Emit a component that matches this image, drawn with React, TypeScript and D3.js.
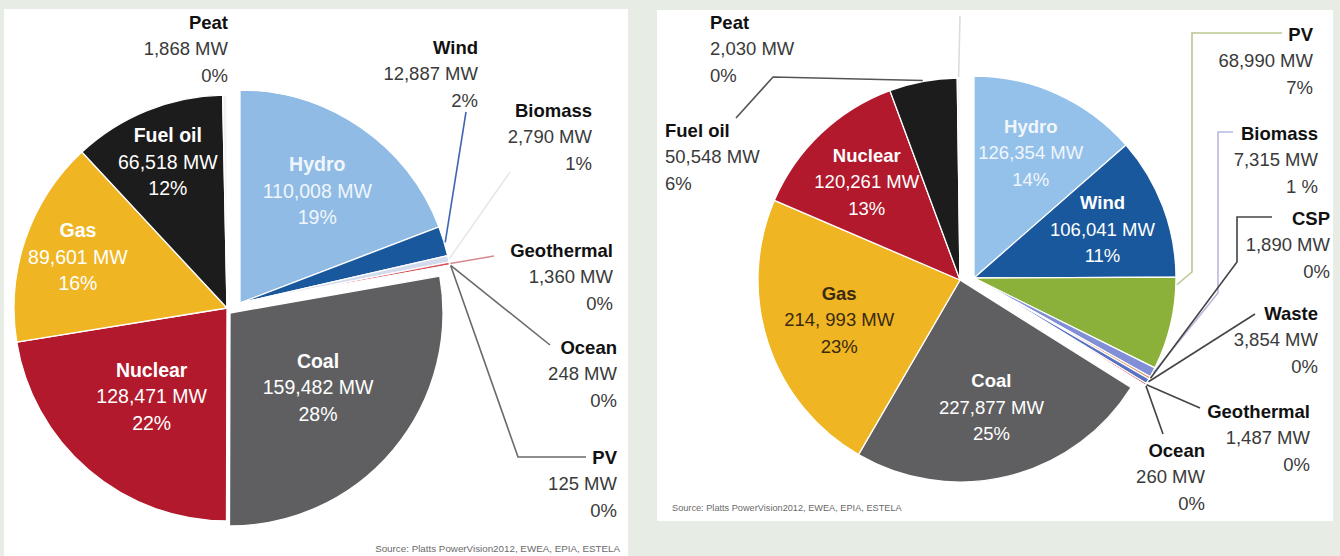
import * as d3 from "d3";

// ---- data: installed capacity by source (left chart / right chart) ----
const leftNames = ["Hydro", "Wind", "Biomass", "Geothermal", "Ocean", "PV", "Coal", "Nuclear", "Gas", "Fuel oil", "Peat"];
const leftMW = [110008, 12887, 2790, 1360, 248, 125, 159482, 128471, 89601, 66518, 1868];
const leftPct = ["19%", "2%", "1%", "0%", "0%", "0%", "28%", "22%", "16%", "12%", "0%"];

const rightNames = ["Hydro", "Wind", "PV", "Biomass", "CSP", "Waste", "Geothermal", "Ocean", "Coal", "Gas", "Nuclear", "Fuel oil", "Peat"];
const rightMW = [126354, 106041, 68990, 7315, 1890, 3854, 1487, 260, 227877, 214993, 120261, 50548, 2030];
const rightPct = ["14%", "11%", "7%", "1 %", "0%", "0%", "0%", "0%", "25%", "23%", "13%", "6%", "0%"];
// the printed chart has a stray space in one number
const rightTypos: Record<string, string> = { Gas: "214, 993 MW" };

const sourceText = "Source: Platts PowerVision2012, EWEA, EPIA, ESTELA";

const FONT = "'Liberation Sans', Arial, Helvetica, sans-serif";
const LINE = 26.5;

const baseColors: Record<string, string> = {
  Hydro: "#8fbbe5",
  Wind: "#1a589d",
  Coal: "#5f5f61",
  Nuclear: "#b2192c",
  Gas: "#efb522",
  "Fuel oil": "#1c1c1c",
  Peat: "#f2f2f2",
  PV: "#8bb13a",
  Biomass: "#d6dcef",
  Geothermal: "#d8525a",
  Ocean: "#8793c4",
  CSP: "#e39a6a",
  Waste: "#5a72c2",
};

const fmt = d3.format(",");

const rightGroup = (names: string[], upTo: string, d: [number, number]) => {
  const o: Record<string, [number, number]> = {};
  for (const n of names.slice(0, names.indexOf(upTo))) o[n] = d;
  return o;
};

const leftLayout = {
  cx: 227,
  cy: 308,
  r: 213,
  offsets: { ...rightGroup(leftNames, "Coal", [13, -5]), Coal: [3, 5] } as Record<string, [number, number]>,
  colors: { ...baseColors, Biomass: "#d3dbef" },
  inside: { Hydro: 0.64, Coal: 0.54, Nuclear: 0.545, Gas: 0.74, "Fuel oil": 0.74 } as Record<string, number>,
  insideFill: { Hydro: "#f1f6fc" } as Record<string, string>,
  insideSize: 19.5,
  outside: {
    Peat: { x: 228, y: 22, anchor: "end" },
    Wind: { x: 478, y: 47, anchor: "end" },
    Biomass: { x: 592, y: 110, anchor: "end" },
    Geothermal: { x: 613, y: 250, anchor: "end" },
    Ocean: { x: 617, y: 347, anchor: "end" },
    PV: { x: 617, y: 457, anchor: "end" },
  } as Record<string, { x: number; y: number; anchor: string }>,
  leaders: {
    Wind: { pts: [[466, 112]], color: "#3f66b4", at: 0.55 },
    Biomass: { pts: [[510, 172]], color: "#e6e8ef", at: 0.5 },
    Geothermal: { pts: [[494, 256]], color: "#d88a90", at: 0.5 },
    Ocean: { pts: [[550, 345]], color: "#6a6a6a", at: 0.5 },
    PV: { pts: [[518, 457], [586, 457]], color: "#6a6a6a", at: 0.5 },
  } as Record<string, { pts: number[][]; color: string; at: number }>,
};

const rightLayout = {
  cx: 960,
  cy: 280,
  r: 202,
  offsets: rightGroup(rightNames, "Coal", [14, -2]),
  colors: { ...baseColors, Biomass: "#8190d6", Hydro: "#94c1ea" },
  inside: { Hydro: 0.68, Wind: 0.68, Coal: 0.65, Gas: 0.63, Nuclear: 0.67 } as Record<string, number>,
  insideFill: { Gas: "#3a2a10", Hydro: "#f1f6fc" } as Record<string, string>,
  insideSize: 18.5,
  outside: {
    Peat: { x: 710, y: 22, anchor: "start" },
    "Fuel oil": { x: 665, y: 130, anchor: "start" },
    PV: { x: 1313, y: 34, anchor: "end" },
    Biomass: { x: 1318, y: 133, anchor: "end" },
    CSP: { x: 1330, y: 218, anchor: "end" },
    Waste: { x: 1318, y: 313, anchor: "end" },
    Geothermal: { x: 1310, y: 411, anchor: "end" },
    Ocean: { x: 1205, y: 450, anchor: "end" },
  } as Record<string, { x: number; y: number; anchor: string }>,
  leaders: {
    "Fuel oil": { pts: [[773, 77], [736, 118]], color: "#555", at: 0.5 },
    Peat: { pts: [[960, 16]], color: "#dcdcdc", at: 0.5 },
    PV: { pts: [[1192, 272], [1192, 33], [1282, 33]], color: "#b9c78f", at: 0.08 },
    Biomass: { pts: [[1218, 293], [1218, 132], [1233, 132]], color: "#b7b9df", at: 0.5 },
    CSP: { pts: [[1237, 262], [1237, 217], [1272, 217]], color: "#444", at: 0.5 },
    Waste: { pts: [[1255, 314]], color: "#444", at: 0.5 },
    Geothermal: { pts: [[1200, 408]], color: "#444", at: 0.5 },
    Ocean: { pts: [[1163, 434]], color: "#444", at: 0.5 },
  } as Record<string, { pts: number[][]; color: string; at: number }>,
};

type Layout = typeof leftLayout;

function PieChart({
  names,
  values,
  pct,
  typos = {},
  layout,
}: {
  names: string[];
  values: number[];
  pct: string[];
  typos?: Record<string, string>;
  layout: Layout;
}) {
  const arcs = d3.pie<number>().sort(null).value((d) => d)(values);
  const arc = d3.arc<d3.PieArcDatum<number>>().innerRadius(0).outerRadius(layout.r);

  const origin = (name: string) => {
    const [ox, oy] = layout.offsets[name] || [0, 0];
    return [layout.cx + ox, layout.cy + oy];
  };
  const polar = (name: string, a: number, rad: number) => {
    const [x0, y0] = origin(name);
    return [x0 + Math.sin(a) * rad, y0 - Math.cos(a) * rad];
  };
  const mwText = (i: number) => typos[names[i]] || `${fmt(values[i])} MW`;

  return (
    <g fontFamily={FONT}>
      {arcs.map((p, i) => {
        const [x0, y0] = origin(names[i]);
        return (
          <path
            key={names[i]}
            d={arc(p) || ""}
            transform={`translate(${x0},${y0})`}
            fill={layout.colors[names[i]]}
            stroke="#fff"
            strokeWidth={1.3}
            strokeLinejoin="round"
          />
        );
      })}

      {arcs.map((p, i) => {
        const l = layout.leaders[names[i]];
        if (!l) return null;
        const a = p.startAngle + (p.endAngle - p.startAngle) * l.at;
        const start = polar(names[i], a, layout.r + 1);
        const line = d3.line()([start as [number, number], ...(l.pts as [number, number][])]);
        return <path key={"l" + names[i]} d={line || ""} fill="none" stroke={l.color} strokeWidth={1.6} />;
      })}

      {arcs.map((p, i) => {
        const frac = layout.inside[names[i]];
        if (!frac) return null;
        const a = (p.startAngle + p.endAngle) / 2;
        const [x, y] = polar(names[i], a, layout.r * frac);
        const fill = layout.insideFill[names[i]] || "#fff";
        return (
          <g key={"t" + names[i]} fill={fill} fontSize={layout.insideSize} textAnchor="middle" dominantBaseline="central">
            <text x={x} y={y - LINE} fontWeight="bold">{names[i]}</text>
            <text x={x} y={y}>{mwText(i)}</text>
            <text x={x} y={y + LINE}>{pct[i]}</text>
          </g>
        );
      })}

      {names.map((n, i) => {
        const o = layout.outside[n];
        if (!o) return null;
        return (
          <g key={"o" + n} fontSize={18.5} textAnchor={o.anchor} dominantBaseline="central">
            <text x={o.x} y={o.y} fontWeight="bold" fill="#111">{n}</text>
            <text x={o.x} y={o.y + LINE} fill="#3a3a3a">{mwText(i)}</text>
            <text x={o.x} y={o.y + 2 * LINE} fill="#3a3a3a">{pct[i]}</text>
          </g>
        );
      })}
    </g>
  );
}

export default function App() {
  return (
    <svg width={1340} height={556} style={{ position: "absolute", left: 0, top: 0 }}>
      <rect width={1340} height={556} fill="#e7ece5" />
      <rect x={4} y={9} width={624} height={547} fill="#fff" />
      <rect x={657} y={10} width={676} height={511} fill="#fff" />

      <PieChart names={leftNames} values={leftMW} pct={leftPct} layout={leftLayout} />
      <PieChart names={rightNames} values={rightMW} pct={rightPct} typos={rightTypos} layout={rightLayout as Layout} />

      <text x={620} y={548} textAnchor="end" fontFamily={FONT} fontSize={9.8} fill="#6a6a6a" dominantBaseline="central">
        {sourceText}
      </text>
      <text x={672} y={508} fontFamily={FONT} fontSize={9.2} fill="#6a6a6a" dominantBaseline="central">
        {sourceText}
      </text>
    </svg>
  );
}
